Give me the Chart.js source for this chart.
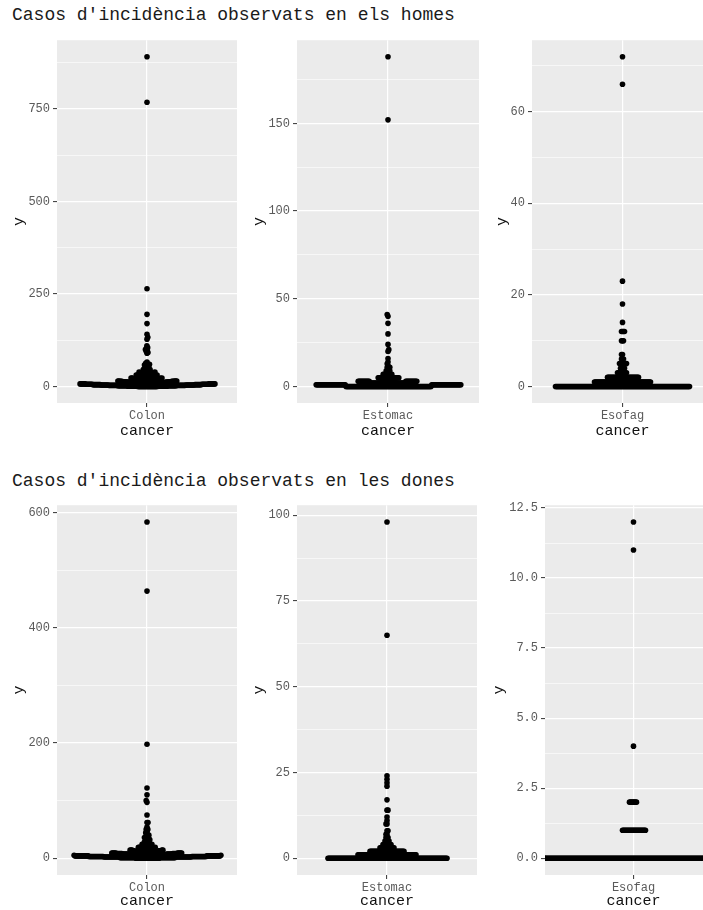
<!DOCTYPE html>
<html>
<head>
<meta charset="utf-8">
<script src="https://cdn.jsdelivr.net/npm/chart.js@4/dist/chart.umd.min.js"></script>
<style>
  html, body { margin: 0; padding: 0; background: #fff; width: 703px; height: 910px; overflow: hidden; position: relative; }
  .title { position: absolute; left: 12px; font: 18px/18px 'Liberation Mono', monospace; color: #1a1a1a; white-space: pre; }
  canvas { position: absolute; }
</style>
</head>
<body>
<div class="title" style="top:6px">Casos d'incidència observats en els homes</div>
<div class="title" style="top:472px">Casos d'incidència observats en les dones</div>
<canvas id="c1"></canvas>
<canvas id="c2"></canvas>
<canvas id="c3"></canvas>
<canvas id="c4"></canvas>
<canvas id="c5"></canvas>
<canvas id="c6"></canvas>
<script>
var categories = ['Colon', 'Estomac', 'Esofag'];

// observed cases, as value -> number of areas with that value
var colonHomesValues = [0,1,2,3,4,5,6,7,8,9,10,11,12,13,14,15,16,17,18,19,20,21,22,23,24,25,26,27,28,29,30,31,32,33,34,35,36,37,38,39,40,42,44,46,48,50,52,54,56,58,60,63,66,90,92,95,98,100,103,105,110,128,133,141,170,195,264,768,891];
var colonHomesCounts = [20,20,19,18,17,15,14,13,11,10,8,7,7,6,6,5,5,5,4,4,4,4,3,3,3,3,3,3,2,2,3,3,3,2,2,2,2,2,2,2,2,2,2,2,2,1,1,1,2,1,2,1,1,1,1,1,1,1,1,1,1,1,1,1,1,1,1,1,1];

var estomacHomesValues = [0,1,2,3,4,5,6,7,8,9,10,11,12,13,14,16,20,21,24,30,36,40,41,152,188];
var estomacHomesCounts = [86,60,36,24,12,10,6,4,3,2,2,2,1,1,1,1,1,1,1,1,1,1,1,1,1];

var esofagHomesValues = [0,1,2,3,4,5,6,7,10,12,14,18,23,66,72];
var esofagHomesCounts = [135,57,32,10,5,8,3,2,3,4,1,1,1,1,1];

var colonDonesValues = [0,1,2,3,4,5,6,7,8,9,10,11,12,13,14,15,16,17,18,19,20,21,22,23,24,25,26,28,30,32,34,36,38,40,42,44,47,50,54,62,75,97,100,110,122,198,464,584];
var colonDonesCounts = [24,32,32,30,28,26,14,12,11,10,9,8,7,5,5,4,4,4,3,3,3,2,2,2,2,2,2,2,2,2,2,2,1,2,1,1,1,2,1,2,1,1,1,1,1,1,1,1];

var estomacDonesValues = [0,1,2,3,4,5,6,7,8,10,11,12,14,17,21,22,23,24,65,98];
var estomacDonesCounts = [120,59,35,15,9,5,3,2,2,2,1,1,2,1,1,1,1,1,1,1];

var esofagDonesValues = [0,1,2,4,11,12];
var esofagDonesCounts = [229,24,8,1,1,1];

// y axis breaks: labelled ones and the minor grid between them
var colonHomesMajor = [0,250,500,750], colonHomesMinor = [125,375,625,875];
var estomacHomesMajor = [0,50,100,150], estomacHomesMinor = [25,75,125,175];
var esofagHomesMajor = [0,20,40,60], esofagHomesMinor = [10,30,50,70];
var colonDonesMajor = [0,200,400,600], colonDonesMinor = [100,300,500];
var estomacDonesMajor = [0,25,50,75,100], estomacDonesMinor = [12.5,37.5,62.5,87.5];
var esofagDonesMajor = [0,2.5,5,7.5,10,12.5], esofagDonesMinor = [1.25,3.75,6.25,8.75,11.25];

Chart.defaults.font.family = "'Liberation Mono', 'Courier New', monospace";

var SWARM_DX = 1.0; // px between neighbours on one row
var SWARM_DY = 3.0; // px, vertical reach of a collision
var SWARM_TOL = 1.5; // px, how much farther the lighter side may be

var panelBackground = {
  id: 'panelBackground',
  beforeDraw: function(chart) {
    var a = chart.chartArea, ctx = chart.ctx;
    ctx.save();
    ctx.fillStyle = '#ebebeb';
    ctx.fillRect(a.left, a.top, a.right - a.left, a.bottom - a.top);
    ctx.restore();
  }
};

function expand(values, counts) {
  var out = [];
  values.forEach(function(v, i) {
    for (var k = 0; k < counts[i]; k++) out.push(v);
  });
  return out;
}

// beeswarm placement in pixel space, lowest values first
function swarm(ys) {
  var placed = [];
  var xs = [];
  var balance = 0; // right minus left placements
  ys.forEach(function(y) {
    var near = placed.filter(function(p) { return Math.abs(p.y - y) < SWARM_DY; });
    var cands = [0];
    near.forEach(function(p) {
      var dy = (p.y - y) / SWARM_DY;
      var d = SWARM_DX * Math.sqrt(1 - dy * dy);
      cands.push(p.x + d, p.x - d);
    });
    var bestL = null, bestR = null;
    cands.forEach(function(cx) {
      var ok = near.every(function(p) {
        var ex = (p.x - cx) / SWARM_DX, ey = (p.y - y) / SWARM_DY;
        return ex * ex + ey * ey >= 1 - 1e-6;
      });
      if (!ok) return;
      if (cx >= 0 && (bestR === null || cx < bestR)) bestR = cx;
      if (cx <= 0 && (bestL === null || cx > bestL)) bestL = cx;
    });
    var x;
    if (bestL === null) x = bestR;
    else if (bestR === null) x = bestL;
    else if (balance > 0) x = (-bestL <= bestR + SWARM_TOL) ? bestL : bestR;
    else if (balance < 0) x = (bestR <= -bestL + SWARM_TOL) ? bestR : bestL;
    else x = (bestR <= -bestL) ? bestR : bestL;
    if (x > 1e-6) balance++;
    else if (x < -1e-6) balance--;
    placed.push({x: x, y: y});
    xs.push(x);
  });
  return xs;
}

function makePanel(p) {
  var canvas = document.getElementById(p.id);
  canvas.width = p.box.width;
  canvas.height = p.box.height;
  canvas.style.left = p.box.left + 'px';
  canvas.style.top = p.box.top + 'px';

  var data = expand(p.values, p.counts);
  var lo = Math.min.apply(null, data), hi = Math.max.apply(null, data);
  var span = hi - lo;
  var allTicks = p.major.concat(p.minor).sort(function(a, b) { return a - b; });
  var isMajor = function(v) { return p.major.indexOf(v) >= 0; };

  var chart = new Chart(canvas, {
    type: 'scatter',
    data: {
      datasets: [{
        data: data.map(function(v) { return {x: 0, y: v}; }),
        pointRadius: 2.8,
        pointHoverRadius: 2.8,
        pointBackgroundColor: '#000',
        pointBorderWidth: 0,
        clip: 0
      }]
    },
    options: {
      responsive: false,
      animation: false,
      events: [],
      layout: {
        padding: {
          top: p.panel.top - p.box.top,
          right: p.box.left + p.box.width - p.panel.right,
          left: 0,
          bottom: 0
        }
      },
      plugins: { legend: { display: false }, tooltip: { enabled: false } },
      scales: {
        x: {
          type: 'linear',
          min: -0.6,
          max: 0.6,
          afterBuildTicks: function(s) { s.ticks = [{value: 0}]; },
          afterFit: function(s) { s.height = p.box.top + p.box.height - p.panel.bottom; },
          ticks: { callback: function() { return p.category; }, font: { size: 12 }, color: '#5a5a5a', padding: 2, maxRotation: 0, autoSkip: false },
          grid: { color: '#ffffff', lineWidth: 1.2, tickLength: 4, tickColor: '#333', tickWidth: 1 },
          border: { display: false },
          title: { display: true, text: 'cancer', font: { size: 15 }, color: '#111', padding: 0 }
        },
        y: {
          min: lo - 0.05 * span,
          max: hi + 0.05 * span,
          afterBuildTicks: function(s) { s.ticks = allTicks.map(function(v) { return {value: v}; }); },
          afterFit: function(s) { s.width = p.panel.left - p.box.left; },
          ticks: {
            callback: function(v) { return isMajor(v) ? v.toFixed(p.decimals) : ''; },
            font: { size: 12 }, color: '#5a5a5a', padding: 3, autoSkip: false
          },
          grid: {
            color: '#ffffff',
            lineWidth: function(ctx) { return ctx.tick && isMajor(ctx.tick.value) ? 1.2 : 0.6; },
            tickColor: function(ctx) { return ctx.tick && isMajor(ctx.tick.value) ? '#333' : 'rgba(0,0,0,0)'; },
            tickLength: 4,
            tickWidth: 1
          },
          border: { display: false },
          title: { display: true, text: 'y', font: { size: 15 }, color: '#111', padding: { top: 10, bottom: 0 } }
        }
      }
    },
    plugins: [panelBackground]
  });

  var yScale = chart.scales.y, xScale = chart.scales.x;
  var pxPerUnit = xScale.getPixelForValue(1) - xScale.getPixelForValue(0);
  var xs = swarm(data.map(function(v) { return yScale.getPixelForValue(v); }));
  chart.data.datasets[0].data = data.map(function(v, i) { return {x: xs[i] / pxPerUnit, y: v}; });
  chart.update('none');
  return chart;
}

var panels = [
  { id: 'c1', category: categories[0], values: colonHomesValues, counts: colonHomesCounts, major: colonHomesMajor, minor: colonHomesMinor, decimals: 0,
    box: {left: 0, top: 30, width: 240, height: 410}, panel: {left: 57, top: 38, right: 237, bottom: 403} },
  { id: 'c2', category: categories[1], values: estomacHomesValues, counts: estomacHomesCounts, major: estomacHomesMajor, minor: estomacHomesMinor, decimals: 0,
    box: {left: 240, top: 30, width: 242, height: 410}, panel: {left: 297, top: 38, right: 479, bottom: 403} },
  { id: 'c3', category: categories[2], values: esofagHomesValues, counts: esofagHomesCounts, major: esofagHomesMajor, minor: esofagHomesMinor, decimals: 0,
    box: {left: 483, top: 30, width: 233, height: 410}, panel: {left: 532, top: 38, right: 713, bottom: 403} },
  { id: 'c4', category: categories[0], values: colonDonesValues, counts: colonDonesCounts, major: colonDonesMajor, minor: colonDonesMinor, decimals: 0,
    box: {left: 0, top: 495, width: 240, height: 415}, panel: {left: 57, top: 503, right: 237, bottom: 875} },
  { id: 'c5', category: categories[1], values: estomacDonesValues, counts: estomacDonesCounts, major: estomacDonesMajor, minor: estomacDonesMinor, decimals: 0,
    box: {left: 240, top: 495, width: 242, height: 415}, panel: {left: 297, top: 503, right: 477, bottom: 875} },
  { id: 'c6', category: categories[2], values: esofagDonesValues, counts: esofagDonesCounts, major: esofagDonesMajor, minor: esofagDonesMinor, decimals: 1,
    box: {left: 480, top: 495, width: 245, height: 415}, panel: {left: 545, top: 503, right: 722, bottom: 875} }
];

panels.forEach(makePanel);
</script>
</body>
</html>
